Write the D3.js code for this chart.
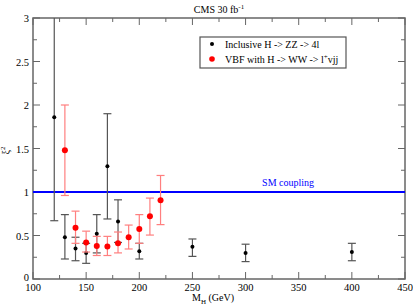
<!DOCTYPE html>
<html>
<head>
<meta charset="utf-8">
<script src="https://cdn.jsdelivr.net/npm/d3@7"></script>
<style>
  body { margin: 0; background: #fff; }
</style>
</head>
<body>
<div id="chart"></div>
<script>
// Inclusive H -> ZZ -> 4l
const zzMass = [120, 130, 140, 150, 160, 170, 180, 200, 250, 300, 400]
const zzVal  = [1.86, 0.48, 0.35, 0.30, 0.52, 1.295, 0.66, 0.32, 0.37, 0.30, 0.31]
const zzLow  = [0.67, 0.23, 0.21, 0.18, 0.30, 0.69, 0.42, 0.23, 0.26, 0.20, 0.21]
const zzHigh = [3.2, 0.74, 0.48, 0.41, 0.74, 1.90, 0.91, 0.41, 0.46, 0.40, 0.41]

// VBF with H -> WW -> lvjj
const vbfMass = [130, 140, 150, 160, 170, 180, 190, 200, 210, 220]
const vbfVal  = [1.48, 0.59, 0.42, 0.38, 0.375, 0.41, 0.48, 0.575, 0.72, 0.905]
const vbfLow  = [0.96, 0.41, 0.31, 0.27, 0.27, 0.30, 0.345, 0.41, 0.505, 0.625]
const vbfHigh = [2.0, 0.78, 0.55, 0.49, 0.49, 0.54, 0.62, 0.74, 0.93, 1.19]

const xTicks = [100, 150, 200, 250, 300, 350, 400, 450]
const yTicks = [0, 0.5, 1, 1.5, 2, 2.5, 3]
const smCoupling = 1

const width = 413
const height = 305
const margin = {top: 18, right: 8, bottom: 26, left: 33}

const svg = d3.select('#chart').append('svg')
  .attr('width', width)
  .attr('height', height)
  .attr('font-family', "'Liberation Serif', 'DejaVu Serif', serif")

const x = d3.scaleLinear().domain([100, 450]).range([margin.left, width - margin.right])
const y = d3.scaleLinear().domain([0, 3]).range([height - margin.bottom, margin.top])

const axisCol = '#666'

svg.append('defs').append('clipPath').attr('id', 'plotclip')
  .append('rect')
  .attr('x', x(100)).attr('y', y(3))
  .attr('width', x(450) - x(100)).attr('height', y(0) - y(3))

// ticks, inward on all four sides
function drawTicks() {
  const g = svg.append('g').attr('stroke', axisCol).attr('stroke-width', 1)
  const xMinor = d3.range(100, 451, 25)
  xMinor.forEach(v => {
    const len = v % 50 === 0 ? 7 : 4
    g.append('line').attr('x1', x(v)).attr('x2', x(v)).attr('y1', y(0)).attr('y2', y(0) - len)
    g.append('line').attr('x1', x(v)).attr('x2', x(v)).attr('y1', y(3)).attr('y2', y(3) + len)
  })
  const yMinor = d3.range(0, 3.01, 0.25)
  yMinor.forEach(v => {
    const len = Math.abs(v * 2 - Math.round(v * 2)) < 1e-6 ? 7 : 4
    g.append('line').attr('y1', y(v)).attr('y2', y(v)).attr('x1', x(100)).attr('x2', x(100) + len)
    g.append('line').attr('y1', y(v)).attr('y2', y(v)).attr('x1', x(450)).attr('x2', x(450) - len)
  })
}
drawTicks()

// tick labels
svg.append('g').selectAll('text').data(xTicks).join('text')
  .attr('x', d => x(d))
  .attr('y', y(0) + 12)
  .attr('text-anchor', 'middle')
  .attr('font-size', 10.5)
  .text(d => d)

svg.append('g').selectAll('text').data(yTicks).join('text')
  .attr('x', x(100) - 4)
  .attr('y', d => y(d) + (d === 0 ? 2 : 4))
  .attr('text-anchor', 'end')
  .attr('font-size', 10.5)
  .text(d => d)

// frame
svg.append('rect')
  .attr('x', x(100)).attr('y', y(3))
  .attr('width', x(450) - x(100)).attr('height', y(0) - y(3))
  .attr('fill', 'none')
  .attr('stroke', axisCol)
  .attr('stroke-width', 1.5)

// SM coupling line
svg.append('line')
  .attr('x1', x(100)).attr('x2', x(450))
  .attr('y1', y(smCoupling)).attr('y2', y(smCoupling))
  .attr('stroke', '#0000ff')
  .attr('stroke-width', 2)

svg.append('text')
  .attr('x', x(340))
  .attr('y', y(smCoupling) - 6)
  .attr('text-anchor', 'middle')
  .attr('font-size', 10)
  .attr('fill', '#0000ff')
  .text('SM coupling')

const plot = svg.append('g').attr('clip-path', 'url(#plotclip)')

function errorBars(mass, val, low, high, col, cap, r, dotCol) {
  const g = plot.append('g')
  mass.forEach((m, i) => {
    g.append('line')
      .attr('x1', x(m)).attr('x2', x(m))
      .attr('y1', y(low[i])).attr('y2', y(high[i]))
      .attr('stroke', col).attr('stroke-width', 1.2)
    ;[low[i], high[i]].forEach(v => {
      g.append('line')
        .attr('x1', x(m) - cap).attr('x2', x(m) + cap)
        .attr('y1', y(v)).attr('y2', y(v))
        .attr('stroke', col).attr('stroke-width', 1.2)
    })
    g.append('circle')
      .attr('cx', x(m)).attr('cy', y(val[i]))
      .attr('r', r)
      .attr('fill', dotCol)
  })
}

errorBars(zzMass, zzVal, zzLow, zzHigh, '#555', 4, 2, '#000')
errorBars(vbfMass, vbfVal, vbfLow, vbfHigh, '#ff7f7f', 4, 3, '#ff0000')

// legend
const lg = svg.append('g')
lg.append('rect')
  .attr('x', 200).attr('y', 37)
  .attr('width', 146).attr('height', 31)
  .attr('fill', '#fff')
  .attr('stroke', '#555')
  .attr('stroke-width', 1.2)
lg.append('circle').attr('cx', 212).attr('cy', 44).attr('r', 2).attr('fill', '#000')
lg.append('circle').attr('cx', 212).attr('cy', 59).attr('r', 2.8).attr('fill', '#ff0000')
lg.append('text').attr('x', 225).attr('y', 48).attr('font-size', 10)
  .text('Inclusive H -> ZZ -> 4l')
const t2 = lg.append('text').attr('x', 225).attr('y', 63).attr('font-size', 10)
t2.append('tspan').text('VBF with H -> WW -> l')
t2.append('tspan').attr('dy', -4).attr('font-size', 7).text('+')
t2.append('tspan').attr('dy', 4).text('vjj')

// title
const title = svg.append('text').attr('x', 219).attr('y', 13)
  .attr('text-anchor', 'middle').attr('font-size', 10)
title.append('tspan').text('CMS 30 fb')
title.append('tspan').attr('dy', -4).attr('font-size', 7).text('-1')

// x axis label
const xl = svg.append('text').attr('x', 213).attr('y', 301)
  .attr('text-anchor', 'middle').attr('font-size', 10)
xl.append('tspan').text('M')
xl.append('tspan').attr('dy', 3).attr('font-size', 7).text('H')
xl.append('tspan').attr('dy', -3).text(' (GeV)')

// y axis label
const yl = svg.append('text')
  .attr('transform', `translate(9,${y(1.5) + 2}) rotate(-90)`)
  .attr('text-anchor', 'middle').attr('font-size', 10)
yl.append('tspan').text('ξ')
yl.append('tspan').attr('dy', -4).attr('font-size', 7).text('2')
</script>
</body>
</html>
